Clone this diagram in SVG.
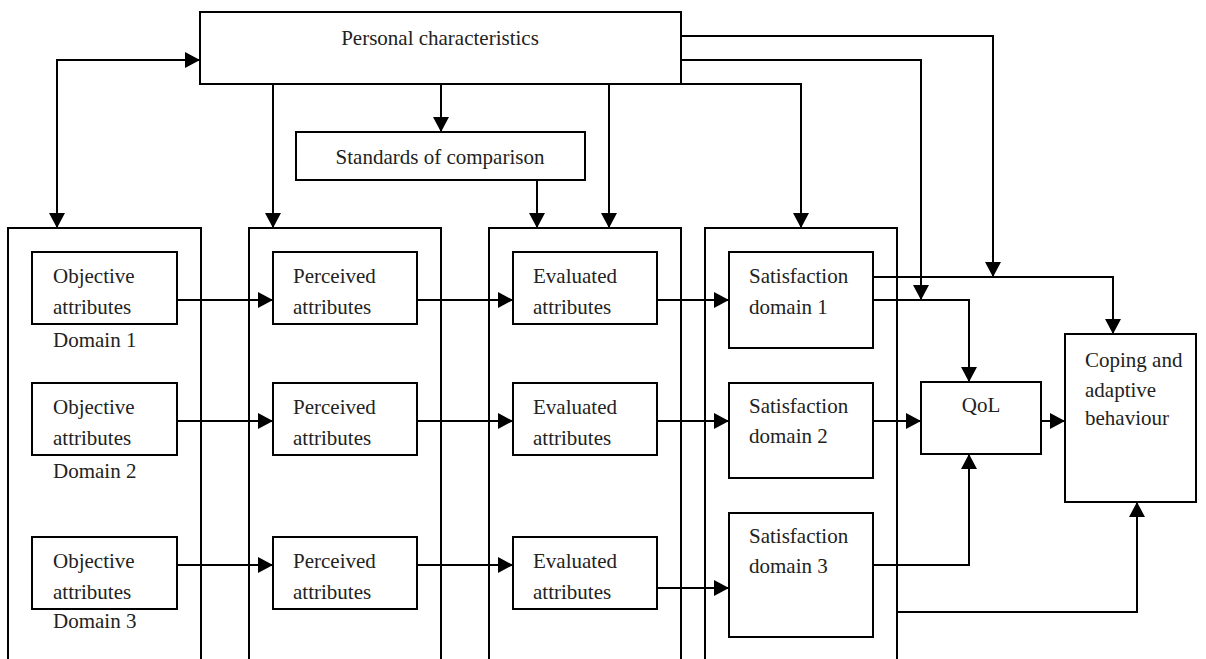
<svg xmlns="http://www.w3.org/2000/svg" width="1206" height="659" viewBox="0 0 1206 659">
<style>
rect{fill:none;stroke:#000;stroke-width:2}
.c{fill:none;stroke:#000;stroke-width:2}
text{font-family:"Liberation Serif","Times New Roman",serif;font-size:21px;fill:#222}
.m{text-anchor:middle}
</style>
<defs>
<marker id="a" markerUnits="userSpaceOnUse" markerWidth="16" markerHeight="16" refX="15" refY="8" orient="auto-start-reverse">
<path d="M0,0 L15,8 L0,16 z" fill="#000"/>
</marker>
</defs>
<rect width="1206" height="659" style="fill:#fff;stroke:none"/>
<g id="col1"><rect x="8" y="228" width="193" height="450"/></g>
<g id="col2"><rect x="249" y="228" width="192" height="450"/></g>
<g id="col3"><rect x="489" y="228" width="192" height="450"/></g>
<g id="col4"><rect x="705" y="228" width="192" height="450"/></g>
<g id="personal"><rect x="200" y="12" width="481" height="72"/><text class="m" x="440" y="45">Personal characteristics</text></g>
<g id="standards"><rect x="296" y="132" width="289" height="48"/><text class="m" x="440" y="164">Standards of comparison</text></g>
<g id="obj1"><rect x="32" y="252" width="145" height="72"/><text x="53" y="283">Objective</text><text x="53" y="314">attributes</text></g>
<g id="obj2"><rect x="32" y="383" width="145" height="72"/><text x="53" y="414">Objective</text><text x="53" y="445">attributes</text></g>
<g id="obj3"><rect x="32" y="537" width="145" height="72"/><text x="53" y="568">Objective</text><text x="53" y="599">attributes</text></g>
<g id="dom1"><text x="53" y="347">Domain 1</text></g>
<g id="dom2"><text x="53" y="478">Domain 2</text></g>
<g id="dom3"><text x="53" y="628">Domain 3</text></g>
<g id="per1"><rect x="273" y="252" width="144" height="72"/><text x="293" y="283">Perceived</text><text x="293" y="314">attributes</text></g>
<g id="per2"><rect x="273" y="383" width="144" height="72"/><text x="293" y="414">Perceived</text><text x="293" y="445">attributes</text></g>
<g id="per3"><rect x="273" y="537" width="144" height="72"/><text x="293" y="568">Perceived</text><text x="293" y="599">attributes</text></g>
<g id="eva1"><rect x="513" y="252" width="144" height="72"/><text x="533" y="283">Evaluated</text><text x="533" y="314">attributes</text></g>
<g id="eva2"><rect x="513" y="383" width="144" height="72"/><text x="533" y="414">Evaluated</text><text x="533" y="445">attributes</text></g>
<g id="eva3"><rect x="513" y="537" width="144" height="72"/><text x="533" y="568">Evaluated</text><text x="533" y="599">attributes</text></g>
<g id="sat1"><rect x="729" y="252" width="144" height="96"/><text x="749" y="283">Satisfaction</text><text x="749" y="314">domain 1</text></g>
<g id="sat2"><rect x="729" y="383" width="144" height="95"/><text x="749" y="413">Satisfaction</text><text x="749" y="443">domain 2</text></g>
<g id="sat3"><rect x="729" y="513" width="144" height="124"/><text x="749" y="543">Satisfaction</text><text x="749" y="573">domain 3</text></g>
<g id="qol"><rect x="921" y="382" width="120" height="72"/><text class="m" x="981" y="412">QoL</text></g>
<g id="coping"><rect x="1065" y="334" width="131" height="168"/><text x="1085" y="367">Coping and</text><text x="1085" y="397">adaptive</text><text x="1085" y="425">behaviour</text></g>
<g id="connectors" class="c">
<path class="c" d="M57,228 V60 H200" marker-start="url(#a)" marker-end="url(#a)"/>
<path class="c" d="M273,84 V228" marker-end="url(#a)"/>
<path class="c" d="M441,84 V132" marker-end="url(#a)"/>
<path class="c" d="M537,180 V228" marker-end="url(#a)"/>
<path class="c" d="M609,84 V228" marker-end="url(#a)"/>
<path class="c" d="M681,84 H801 V228" marker-end="url(#a)"/>
<path class="c" d="M681,36 H993 V277" marker-end="url(#a)"/>
<path class="c" d="M681,60 H921 V300" marker-end="url(#a)"/>
<path class="c" d="M177,300 H273" marker-end="url(#a)"/>
<path class="c" d="M177,421 H273" marker-end="url(#a)"/>
<path class="c" d="M177,565 H273" marker-end="url(#a)"/>
<path class="c" d="M417,300 H513" marker-end="url(#a)"/>
<path class="c" d="M417,421 H513" marker-end="url(#a)"/>
<path class="c" d="M417,565 H513" marker-end="url(#a)"/>
<path class="c" d="M657,300 H729" marker-end="url(#a)"/>
<path class="c" d="M657,421 H729" marker-end="url(#a)"/>
<path class="c" d="M657,588 H729" marker-end="url(#a)"/>
<path class="c" d="M873,277 H1113 V334" marker-end="url(#a)"/>
<path class="c" d="M873,300 H969 V382" marker-end="url(#a)"/>
<path class="c" d="M873,421 H921" marker-end="url(#a)"/>
<path class="c" d="M873,565 H969 V454" marker-end="url(#a)"/>
<path class="c" d="M1041,421 H1065" marker-end="url(#a)"/>
<path class="c" d="M897,612 H1137 V502" marker-end="url(#a)"/>
</g>
</svg>
